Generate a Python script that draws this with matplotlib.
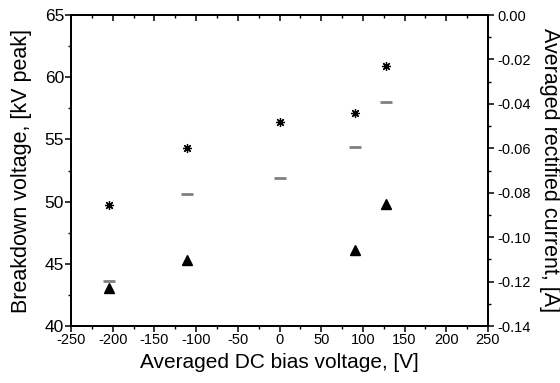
import matplotlib
matplotlib.use("Agg")
import matplotlib.pyplot as plt
from matplotlib.ticker import MultipleLocator

plt.rcParams['font.family'] = ['Liberation Sans', 'DejaVu Sans']
plt.rcParams['axes.unicode_minus'] = False

# Data
bias_v = [-205, -111, 0, 90, 128]
breakdown_kv = [49.7, 54.3, 56.4, 57.1, 60.9]
gray_bias = [-205, -111, 0, 90, 128]
gray_kv = [43.6, 50.6, 51.9, 54.4, 58.0]
current_bias = [-205, -111, 90, 128]
current_a = [-0.1227, -0.1103, -0.1058, -0.0851]

fig = plt.figure(figsize=(5.6, 3.83), dpi=100)
ax = fig.add_axes([71/560, 1-326/383, (488-71)/560, (326-15)/383])
ax2 = ax.twinx()

ax.plot(bias_v, breakdown_kv, linestyle='none', marker=(8, 2, 0), markersize=6.5,
        color='black', markeredgewidth=0.9, zorder=3)
ax.plot(gray_bias, gray_kv, linestyle='none', marker='_', markersize=9,
        color='#808080', markeredgewidth=2.0, zorder=3)
ax2.plot(current_bias, current_a, linestyle='none', marker='^', markersize=7,
         color='black', zorder=3)

ax.set_xlim(-250, 250)
ax.set_ylim(40, 65)
ax2.set_ylim(-0.14, 0.0)

ax.xaxis.set_major_locator(MultipleLocator(50))
ax.xaxis.set_minor_locator(MultipleLocator(25))
ax.yaxis.set_major_locator(MultipleLocator(5))
ax.yaxis.set_minor_locator(MultipleLocator(2.5))
ax2.yaxis.set_major_locator(MultipleLocator(0.02))
ax2.yaxis.set_minor_locator(MultipleLocator(0.01))
ax2.yaxis.set_major_formatter(matplotlib.ticker.FormatStrFormatter('%.2f'))

for a in (ax, ax2):
    for s in a.spines.values():
        s.set_linewidth(1.3)

ax.tick_params(axis='x', which='both', direction='out', top=False, labeltop=False)
ax.tick_params(axis='x', which='major', length=4, width=1.1, labelsize=10.5, pad=1)
ax.tick_params(axis='x', which='minor', length=2, width=1.0)
ax.tick_params(axis='y', which='major', direction='out', length=4, width=1.1, labelsize=12.5, pad=1)
ax.tick_params(axis='y', which='minor', direction='out', length=2, width=1.0)
ax2.tick_params(axis='y', which='major', direction='out', length=4, width=1.1, labelsize=10.5, pad=2.5)
ax2.tick_params(axis='y', which='minor', direction='out', length=2, width=1.0)

# top ticks inward via secondary axis
secx = ax.secondary_xaxis('top')
secx.xaxis.set_major_locator(MultipleLocator(50))
secx.xaxis.set_minor_locator(MultipleLocator(25))
secx.tick_params(axis='x', which='major', direction='in', length=4, width=1.1, labeltop=False)
secx.tick_params(axis='x', which='minor', direction='in', length=2, width=1.0)
secx.spines['top'].set_linewidth(1.3)

ax.set_xlabel('Averaged DC bias voltage, [V]', fontsize=15, labelpad=4)
ax.set_ylabel('Breakdown voltage, [kV peak]', fontsize=15.5, labelpad=9)
ax2.set_ylabel('Averaged rectified current, [A]', fontsize=15.5, rotation=-90, labelpad=21)

fig.savefig('out.png', dpi=100)
